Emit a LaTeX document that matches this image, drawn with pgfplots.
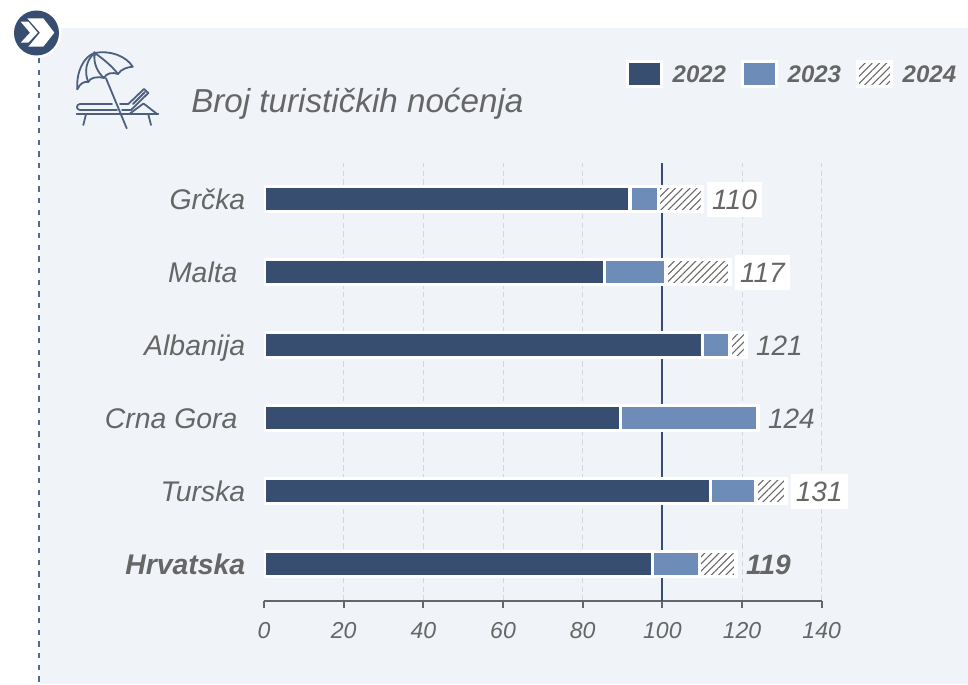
\documentclass[border=0pt]{standalone}
\usepackage{fontspec}
\setmainfont{Liberation Sans}
\usepackage{pgfplots}
\usepackage{pgfplotstable}
\pgfplotsset{compat=1.18}
\usetikzlibrary{patterns.meta}

\definecolor{panel}{HTML}{F0F3F8}
\definecolor{navy}{HTML}{384E70}
\definecolor{midblue}{HTML}{6E8CB8}
\definecolor{txt}{HTML}{666666}
\definecolor{gridc}{HTML}{D3D6DB}

% y: 0 = Hrvatska ... 5 = Grcka
\pgfplotstableread{
y  a    b    c
0  97.5 11.9 9.1
1  112  11.5 7.5
2  89.5 34.5 0
3  110  7    4
4  85.4 15.5 16.1
5  91.9 7.1  11
}\bars

\begin{document}
\begin{tikzpicture}[x=0.75pt,y=-0.75pt,font=\itshape\color{txt}]
% page and panel
\fill[white] (0,0) rectangle (968,684);
\fill[panel] (40,28) rectangle (968,684);
\draw[navy!85,line width=0.9pt,dash pattern=on 4pt off 4.75pt] (39,58) -- (39,684);
\fill[white] (36.5,33) circle (25);
\fill[navy] (36.5,33) circle (22.5);
\fill[white] (27.3,18.3) -- (43.3,18.3) -- (54.3,32.7) -- (43.3,46.7) -- (28.3,46.7) -- (40,32.7) -- cycle;
\fill[white] (20.7,21.7) -- (28.3,21.7) -- (37.7,32.7) -- (28.3,42.7) -- (20.7,42.7) -- (30,32.7) -- cycle;
% beach icon
\begin{scope}[navy!90,line width=1.35pt,line cap=round,line join=round]
\draw (94.3,52) -- (94.7,56);
\draw (77.3,89.3) .. controls (76,72) and (84,56) .. (94.7,53) .. controls (110,50) and (126,56) .. (132.7,66.7);
\draw (77.3,89.3) .. controls (80,83) and (85,81) .. (88.3,82) .. controls (90,78) and (96,76) .. (104,78) .. controls (106,73) and (113,72) .. (118,74) .. controls (121,69) and (128,67) .. (132.7,66.7);
\draw (94.7,53) .. controls (86,60) and (84,72) .. (88.3,82);
\draw (94.7,53) .. controls (93,62) and (97,72) .. (104,78);
\draw (94.7,53) .. controls (102,58) and (112,66) .. (118,74);
\draw (106,78.3) -- (126.7,128.3);
\draw (112,104) -- (80,104) .. controls (76,104) and (76,110) .. (80,110) -- (117,110);
\draw (120,104) -- (128.3,104) -- (144,89) -- (148.3,93) -- (131,110) -- (122,110);
\draw (133,104) -- (145,92);
\draw (76.7,114.3) -- (158.3,114.3);
\draw (130,113.5) -- (143.5,103.5) -- (156.5,113.5);
\draw (86,114.3) -- (83.3,125);
\draw (148.3,114.3) -- (151,125);
\end{scope}
\node[anchor=base west,inner sep=0pt,font=\fontsize{24.9pt}{30pt}\selectfont\itshape\color{txt}] at (191,113) {Broj turističkih noćenja};

\begin{axis}[
    at={(198pt,-450.5pt)},
    anchor=south west,
    scale only axis,
    width=418.3pt,
    height=328.5pt,
    xmin=0, xmax=140,
    ymin=-0.5, ymax=5.5,
    xbar stacked,
    bar width=18.75pt,
    axis x line*=bottom,
    axis y line*=left,
    y axis line style={draw=none},
    x axis line style={draw=txt,line width=1.5pt},
    xtick={0,20,40,60,80,120,140},
    minor xtick={20,40,60,80,120,140},
    xminorgrids,
    minor grid style={gridc,line width=0.75pt,dash pattern=on 4pt off 2.5pt},
    minor tick length=0pt,
    extra x ticks={100},
    extra x tick style={grid=major,grid style={navy,line width=1.5pt,solid}},
    x tick style={draw=txt,line width=1.5pt},
    tick align=outside,
    major tick length=5.25pt,
    ytick={0,...,5},
    yticklabels={\textbf{Hrvatska},Turska,{Crna Gora\kern5.8pt\null},Albanija,{Malta\kern5.8pt\null},Grčka},
    y tick style={draw=none},
    y tick label style={font=\fontsize{21.3pt}{25pt}\selectfont\itshape\color{txt},anchor=east,inner sep=0pt,xshift=-8.6pt,
        yshift=-2.6pt,text height=15pt,text depth=4pt},
    x tick label style={font=\fontsize{17.3pt}{20pt}\selectfont\itshape\color{txt},inner sep=0pt,yshift=-10.5pt},
    /pgf/number format/assume math mode=true,
    legend columns=3,
    legend style={
        at={(1.2462,1.2025)},anchor=east,draw=none,fill=none,inner sep=0pt,
        font=\fontsize{18pt}{22pt}\selectfont\bfseries\itshape\color{txt},
        /tikz/every odd column/.append style={column sep=5.25pt},
        /tikz/every even column/.append style={column sep=9pt},
    },
    legend cell align=left,
    legend image code/.code={
        \draw[#1] (0pt,-8.6pt) rectangle (25.5pt,10.6pt);
    },
]
\addplot[fill=navy,draw=white,line width=2.475pt] table[x=a,y=y] {\bars};
\addplot[fill=midblue,draw=white,line width=2.475pt] table[x=b,y=y] {\bars};
\addplot[fill=white,draw=white,line width=2.475pt,
    postaction={pattern={Lines[angle=45,distance=3.8pt,line width=0.8pt]},pattern color=txt}] table[x=c,y=y] {\bars};
\legend{2022,2023,2024}
\end{axis}

% value labels, on a second axis with the same frame
\begin{axis}[
    at={(198pt,-450.5pt)},
    anchor=south west,
    scale only axis,
    width=418.3pt,
    height=328.5pt,
    xmin=0, xmax=140,
    ymin=-0.5, ymax=5.5,
    hide axis,
    clip=false,
    point meta=explicit symbolic,
    nodes near coords,
    nodes near coords align={anchor=west},
    every node near coord/.append style={anchor=west,xshift=3.6pt,inner xsep=3.7pt,
        text height=21.2pt,text depth=5pt,inner ysep=0pt,
        font=\fontsize{21pt}{25pt}\selectfont\itshape\color{txt}},
]
\addplot[only marks,mark=none,every node near coord/.append style={fill=white}] table[x=x,y=y,meta=t,row sep=\\] {
x y t\\
110 5 110\\
117 4 117\\
131 1 131\\
};
\addplot[only marks,mark=none] table[x=x,y=y,meta=t,row sep=\\] {
x y t\\
121 3 121\\
124 2 124\\
};
\addplot[only marks,mark=none,every node near coord/.append style={font=\fontsize{21pt}{25pt}\selectfont\bfseries\itshape\color{txt}}] table[x=x,y=y,meta=t,row sep=\\] {
x y t\\
118.5 0 119\\
};
\end{axis}
\end{tikzpicture}
\end{document}
